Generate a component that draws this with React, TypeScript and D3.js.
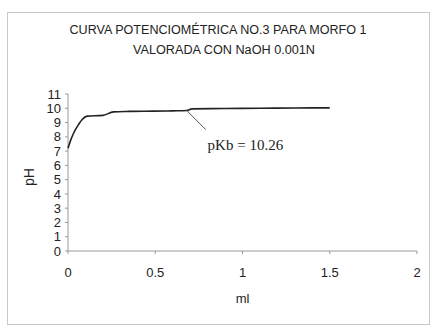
import * as d3 from 'd3';

const titleLines = ['CURVA POTENCIOMÉTRICA NO.3 PARA MORFO 1', 'VALORADA CON NaOH 0.001N'];
const volume = [0, 0.015, 0.03, 0.045, 0.06, 0.08, 0.11, 0.2, 0.26, 0.35, 0.49, 0.6, 0.68, 0.71, 0.9, 1.1, 1.3, 1.5];
const pH = [7.2, 7.75, 8.2, 8.55, 8.85, 9.2, 9.45, 9.5, 9.75, 9.78, 9.8, 9.82, 9.84, 9.96, 9.98, 10.0, 10.02, 10.03];
const xTicks = [0, 0.5, 1, 1.5, 2];
const yTicks = [0, 1, 2, 3, 4, 5, 6, 7, 8, 9, 10, 11];
const annotation = { text: 'pKb = 10.26', from: [0.68, 9.85], to: [0.79, 8.5], labelAt: [0.8, 7.05] };

export default function App() {
  const width = 433;
  const height = 329;
  const margin = { top: 94, right: 16, bottom: 78, left: 68 };

  const x = d3.scaleLinear().domain([0, 2]).range([margin.left, width - margin.right]);
  const y = d3.scaleLinear().domain([0, 11]).range([height - margin.bottom, margin.top]);

  const points = volume.map((v, i) => [v, pH[i]] as [number, number]);
  const line = d3.line<[number, number]>()
    .x(d => x(d[0]))
    .y(d => y(d[1]))
    .curve(d3.curveMonotoneX);

  const sans = 'Liberation Sans, Arial, sans-serif';

  return (
    <svg width={width} height={height} style={{ position: 'absolute', left: 0, top: 0, background: '#fff' }}>
      {/* outer frame */}
      <rect x={7.5} y={12.5} width={422} height={312} fill="none" stroke="#c8c8c8" strokeWidth={1} />

      {/* title */}
      <text x={218} y={34} textAnchor="middle" fontFamily={sans} fontSize={12.5}
        textLength={297} lengthAdjust="spacingAndGlyphs" fill="#222">{titleLines[0]}</text>
      <text x={224} y={54} textAnchor="middle" fontFamily={sans} fontSize={12.5}
        textLength={182} lengthAdjust="spacingAndGlyphs" fill="#222">{titleLines[1]}</text>

      {/* y axis */}
      <line x1={x(0)} x2={x(0)} y1={y(0)} y2={y(11)} stroke="#999" strokeWidth={1} />
      {yTicks.map(t => (
        <g key={t}>
          <line x1={x(0) - 3} x2={x(0)} y1={y(t)} y2={y(t)} stroke="#999" />
          <text x={x(0) - 7} y={y(t)} dy="0.36em" textAnchor="end" fontFamily={sans} fontSize={13} fill="#222">{t}</text>
        </g>
      ))}
      <text transform={`translate(${30},${177}) rotate(-90)`} textAnchor="middle" dominantBaseline="middle"
        fontFamily={sans} fontSize={14} fill="#222">pH</text>

      {/* x axis */}
      <line x1={x(0)} x2={x(2)} y1={y(0)} y2={y(0)} stroke="#999" strokeWidth={1} />
      {xTicks.map(t => (
        <g key={t}>
          <line x1={x(t)} x2={x(t)} y1={y(0)} y2={y(0) + 3} stroke="#999" />
          <text x={x(t)} y={y(0) + 21} dy="0.36em" textAnchor="middle" fontFamily={sans} fontSize={13} fill="#222">{t}</text>
        </g>
      ))}
      <text x={x(1)} y={298} dy="0.36em" textAnchor="middle" fontFamily={sans} fontSize={13} fill="#222">ml</text>

      {/* curve */}
      <path d={line(points) ?? ''} fill="none" stroke="#222" strokeWidth={1.6} />

      {/* annotation */}
      <line x1={x(annotation.from[0])} y1={y(annotation.from[1])} x2={x(annotation.to[0])} y2={y(annotation.to[1])}
        stroke="#555" strokeWidth={1} />
      <text x={x(annotation.labelAt[0])} y={y(annotation.labelAt[1])} fontFamily="Liberation Serif, Times New Roman, serif"
        fontSize={15} fill="#222">{annotation.text}</text>
    </svg>
  );
}
